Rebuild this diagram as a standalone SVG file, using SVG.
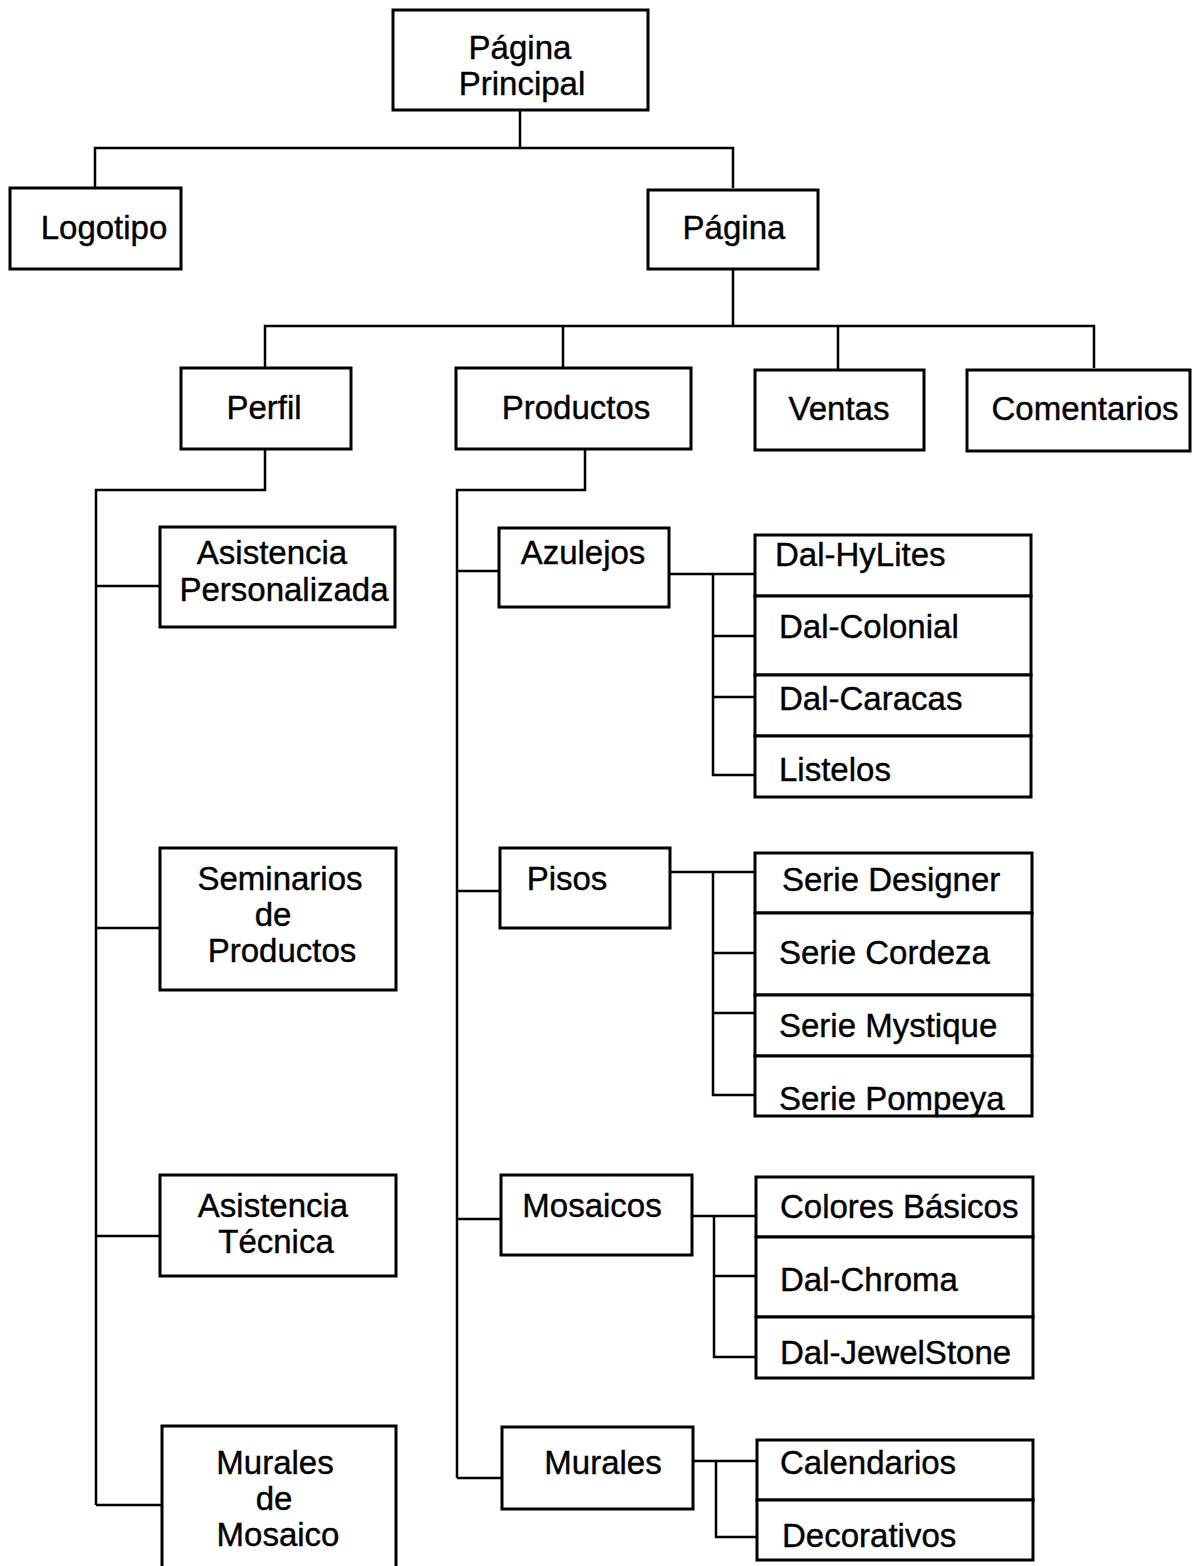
<svg xmlns="http://www.w3.org/2000/svg" width="1193" height="1566" viewBox="0 0 1193 1566">
<style>
.b{fill:#fff;stroke:#000;stroke-width:3}
.t{font-family:"Liberation Sans",Arial,sans-serif;font-size:33px;fill:#000;stroke:#000;stroke-width:0.4}
.m{text-anchor:middle}
.c{fill:none;stroke:#000;stroke-width:2.5}
</style>
<rect width="1193" height="1566" fill="#fff"/>
<g id="connectors" class="c">
<path d="M520 110V148M95 188V148H733V188"/>
<path d="M733 269V326M265 368V326H1094V368M563 326V368M838 326V370"/>
<path d="M265 449V490H96V1505M96 586H160M96 928H160M96 1236H160M96 1505H162"/>
<path d="M585 449V490H457V1478M457 571H499M457 891H500M457 1219H501M457 1478H502"/>
<path d="M669 574H755M713 574V775H755M713 636H755M713 697H755"/>
<path d="M670 872H755M713 872V1095H755M713 953H755M713 1013H755"/>
<path d="M692 1216H756M714 1216V1357H756M714 1276H756"/>
<path d="M693 1461H757M716 1461V1537H757"/>
</g>
<g id="n-principal"><rect class="b" x="393" y="10" width="255" height="100"/><text class="t m" x="520" y="59">Página</text><text class="t m" x="522" y="95">Principal</text></g>
<g id="n-logotipo"><rect class="b" x="10" y="188" width="171" height="81"/><text class="t m" x="104" y="239">Logotipo</text></g>
<g id="n-pagina"><rect class="b" x="648" y="190" width="170" height="79"/><text class="t m" x="734" y="239">Página</text></g>
<g id="n-perfil"><rect class="b" x="181" y="368" width="170" height="81"/><text class="t m" x="264" y="419">Perfil</text></g>
<g id="n-productos"><rect class="b" x="456" y="368" width="235" height="81"/><text class="t m" x="576" y="419">Productos</text></g>
<g id="n-ventas"><rect class="b" x="755" y="370" width="169" height="80"/><text class="t m" x="839" y="420">Ventas</text></g>
<g id="n-comentarios"><rect class="b" x="967" y="370" width="223" height="81"/><text class="t m" x="1085" y="420">Comentarios</text></g>
<g id="n-asist-pers"><rect class="b" x="160" y="527" width="235" height="100"/><text class="t m" x="272" y="564">Asistencia</text><text class="t m" x="284" y="601">Personalizada</text></g>
<g id="n-seminarios"><rect class="b" x="160" y="848" width="236" height="142"/><text class="t m" x="280" y="890">Seminarios</text><text class="t m" x="273" y="926">de</text><text class="t m" x="282" y="962">Productos</text></g>
<g id="n-asist-tec"><rect class="b" x="160" y="1175" width="236" height="101"/><text class="t m" x="273" y="1217">Asistencia</text><text class="t m" x="276" y="1253">Técnica</text></g>
<g id="n-murales-mosaico"><rect class="b" x="162" y="1426" width="234" height="145"/><text class="t m" x="275" y="1474">Murales</text><text class="t m" x="274" y="1510">de</text><text class="t m" x="278" y="1546">Mosaico</text></g>
<g id="n-azulejos"><rect class="b" x="499" y="528" width="170" height="79"/><text class="t m" x="583" y="564">Azulejos</text></g>
<g id="n-pisos"><rect class="b" x="500" y="848" width="170" height="80"/><text class="t m" x="567" y="890">Pisos</text></g>
<g id="n-mosaicos"><rect class="b" x="501" y="1175" width="191" height="80"/><text class="t m" x="592" y="1217">Mosaicos</text></g>
<g id="n-murales"><rect class="b" x="502" y="1427" width="191" height="82"/><text class="t m" x="603" y="1474">Murales</text></g>
<g id="n-hylites"><rect class="b" x="755" y="535" width="276" height="61"/><text class="t" x="775" y="566">Dal-HyLites</text></g>
<g id="n-colonial"><rect class="b" x="755" y="596" width="276" height="79"/><text class="t" x="779" y="638">Dal-Colonial</text></g>
<g id="n-caracas"><rect class="b" x="755" y="675" width="276" height="61"/><text class="t" x="779" y="710">Dal-Caracas</text></g>
<g id="n-listelos"><rect class="b" x="755" y="736" width="276" height="61"/><text class="t" x="779" y="781">Listelos</text></g>
<g id="n-designer"><rect class="b" x="755" y="853" width="277" height="60"/><text class="t" x="782" y="891">Serie Designer</text></g>
<g id="n-cordeza"><rect class="b" x="755" y="913" width="277" height="82"/><text class="t" x="779" y="964">Serie Cordeza</text></g>
<g id="n-mystique"><rect class="b" x="755" y="995" width="277" height="61"/><text class="t" x="779" y="1037">Serie Mystique</text></g>
<g id="n-pompeya"><rect class="b" x="755" y="1056" width="277" height="60"/><text class="t" x="779" y="1110">Serie Pompeya</text></g>
<g id="n-colores"><rect class="b" x="756" y="1177" width="277" height="60"/><text class="t" x="780" y="1218">Colores Básicos</text></g>
<g id="n-chroma"><rect class="b" x="756" y="1237" width="277" height="80"/><text class="t" x="780" y="1291">Dal-Chroma</text></g>
<g id="n-jewelstone"><rect class="b" x="756" y="1317" width="277" height="61"/><text class="t" x="780" y="1364">Dal-JewelStone</text></g>
<g id="n-calendarios"><rect class="b" x="757" y="1440" width="276" height="60"/><text class="t" x="780" y="1474">Calendarios</text></g>
<g id="n-decorativos"><rect class="b" x="757" y="1500" width="276" height="60"/><text class="t" x="782" y="1547">Decorativos</text></g>
</svg>
